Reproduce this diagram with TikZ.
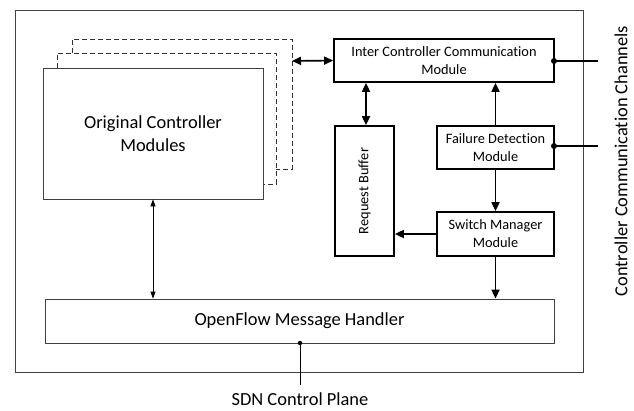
\documentclass[tikz,border=0pt]{standalone}
\usepackage{fontspec}
\setmainfont{Carlito}[Ligatures={NoCommon}]
\usetikzlibrary{arrows.meta}
\begin{document}
\begin{tikzpicture}[x=1bp,y=-1bp,
  thinbox/.style={draw=black!75,line width=0.8bp,fill=white},
  thickbox/.style={draw=black,line width=1.7bp,fill=white},
  layer/.style={draw=black!80,line width=0.8bp,dashed,dash pattern=on 5bp off 3bp},
  bold/.style={line width=1.7bp,-{Triangle[length=9bp,width=8bp]}},
  boldboth/.style={line width=1.7bp,{Triangle[length=9bp,width=8bp]}-{Triangle[length=9bp,width=8bp]}},
  thinboth/.style={line width=0.8bp,{Triangle[length=7bp,width=5bp]}-{Triangle[length=7bp,width=5bp]}},
  smalltext/.style={font=\fontsize{14.4}{18}\selectfont},
  bigtext/.style={font=\fontsize{18.5}{23}\selectfont},
  dot/.style={circle,fill=black,inner sep=0pt,minimum size=6bp}]
\useasboundingbox (0,0) rectangle (634,410);

% enclosing controller frame
\draw[thinbox] (15,10) rectangle (583,372);

% stacked controller module copies
\draw[layer] (72,53) -- (72,39) -- (292,39) -- (292,169) -- (276,169);
\draw[layer] (57,68) -- (57,53) -- (276,53) -- (276,184) -- (263,184);
\coordinate (layerR) at (292,61);

% main boxes
\node[thinbox,minimum width=220bp,minimum height=131bp,align=center,bigtext] (orig) at (153,133.5) {Original Controller\\Modules};
\node[thickbox,minimum width=220bp,minimum height=43bp,align=center,smalltext] (icc) at (444,60.5) {Inter Controller Communication\\Module};
\node[thickbox,minimum width=117bp,minimum height=43bp,align=center,smalltext] (fail) at (495.5,147.5) {Failure Detection\\Module};
\node[thickbox,minimum width=117bp,minimum height=44bp,align=center,smalltext] (sw) at (495.5,234) {Switch Manager\\Module};
\node[thickbox,minimum width=59bp,minimum height=130bp] (rb) at (364.5,191) {};
\node[rotate=90,smalltext] (rblabel) at (rb.center) {Request Buffer};
\node[thinbox,minimum width=509bp,minimum height=44bp,bigtext] (ofh) at (299.5,321) {OpenFlow Message Handler};

% external labels
\node[bigtext] (sdn) at (300,399) {SDN Control Plane};
\node[rotate=90,bigtext] (ccc) at (621,161) {Controller Communication Channels};

% connectors
\draw[boldboth] (layerR) -- (icc.west);
\draw[boldboth] (rb.north -| 366,0) -- (icc.south -| 366,0);
\draw[bold] (fail.north) -- (icc.south -| fail.north);
\draw[bold] (fail.south) -- (sw.north);
\draw[bold] (sw.west) -- (rb.east |- sw.west);
\draw[bold] (sw.south) -- (ofh.north -| sw.south);
\draw[thinboth] (orig.south -| 153,0) -- (ofh.north -| 153,0);

% channel and control-plane taps
\coordinate (iccout) at (598,61);
\coordinate (failout) at (598,146);
\coordinate (sdnend) at (300,385);
\node[dot] (iccdot) at (554,61) {};
\node[dot] (faildot) at (554,146) {};
\node[dot,minimum size=4.5bp] (ofhdot) at (300,343) {};
\draw[line width=1.7bp] (iccdot.center) -- (iccout);
\draw[line width=1.7bp] (faildot.center) -- (failout);
\draw[line width=0.8bp] (ofhdot.center) -- (sdnend);
\end{tikzpicture}
\end{document}
